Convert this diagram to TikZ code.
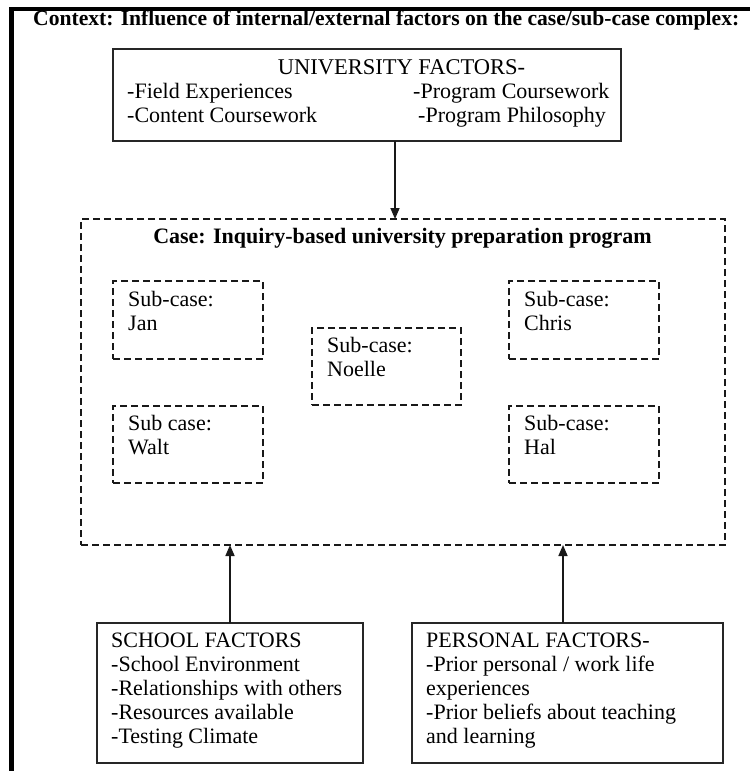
\documentclass[tikz,border=0pt]{standalone}
\usepackage{fontspec}
\setmainfont{Liberation Serif}
\usetikzlibrary{arrows.meta}
\newcommand{\mlines}[1]{\begin{tabular}[t]{@{}l@{}}#1\end{tabular}}
\begin{document}
\begin{tikzpicture}[x=1pt,y=-1pt,
  solidbox/.style={draw=black!85,line width=1.6pt,inner sep=0pt,outer sep=0pt,fill=none},
  dashbox/.style={draw=black!90,line width=1.3pt,dash pattern=on 7pt off 4pt,inner sep=0pt,outer sep=0pt},
  txt/.style={anchor=base west,inner sep=0pt,font=\fontsize{22}{24}\selectfont},
  arr/.style={draw=black!90,line width=1.6pt,-{Triangle[length=11pt,width=9pt]}}]
\useasboundingbox (0,0) rectangle (750,771);
% page border
\fill[black] (9,7) rectangle (750,11);
\fill[black] (9,7) rectangle (14,771);
% title
\node[anchor=base west,inner sep=0pt,font=\fontsize{21.6}{24}\selectfont\bfseries] (title) at (33,25) {Context: Influence of internal/external factors on the case/sub-case complex:};
% university box
\node[solidbox,minimum width=508pt,minimum height=92pt] (univ) at (367,95) {};
\node[anchor=base,inner sep=0pt,font=\fontsize{22.5}{24}\selectfont] (univt) at (401.5,74) {UNIVERSITY FACTORS-};
\node[txt] (u1) at (127,98) {-Field Experiences};
\node[txt] (u2) at (127,122) {-Content Coursework};
\node[txt] (u3) at (413,98) {-Program Coursework};
\node[txt] (u4) at (418,122) {-Program Philosophy};
% case box
\node[dashbox,minimum width=644pt,minimum height=326pt] (case) at (403,382) {};
\node[anchor=base,inner sep=0pt,font=\fontsize{22}{24}\selectfont\bfseries] (caset) at (402.5,243) {Case: Inquiry-based university preparation program};
% sub-cases
\node[dashbox,minimum width=150pt,minimum height=78pt] (jan) at (188,320) {};
\node[txt] (jant) at (128,306) {\mlines{Sub-case:\\Jan}};
\node[dashbox,minimum width=150pt,minimum height=77pt] (walt) at (188,444.5) {};
\node[txt] (waltt) at (128,430) {\mlines{Sub case:\\Walt}};
\node[dashbox,minimum width=149pt,minimum height=77pt] (noelle) at (386.5,366.5) {};
\node[txt] (noellet) at (327,352) {\mlines{Sub-case:\\Noelle}};
\node[dashbox,minimum width=150pt,minimum height=78pt] (chris) at (584,320) {};
\node[txt] (christ) at (524,306) {\mlines{Sub-case:\\Chris}};
\node[dashbox,minimum width=150pt,minimum height=77pt] (hal) at (584,444.5) {};
\node[txt] (halt) at (524,430) {\mlines{Sub-case:\\Hal}};
% bottom boxes
\node[solidbox,minimum width=266pt,minimum height=140pt] (school) at (230,693) {};
\node[txt] (schoolt) at (111,647) {\mlines{SCHOOL FACTORS\\-School Environment\\-Relationships with others\\-Resources available\\-Testing Climate}};
\node[solidbox,minimum width=311pt,minimum height=140pt] (personal) at (567.5,693) {};
\node[txt] (personalt) at (426,647) {\mlines{PERSONAL FACTORS-\\-Prior personal / work life\\experiences\\-Prior beliefs about teaching\\and learning}};
% arrows
\draw[arr] ([xshift=28pt]univ.south) -- ([xshift=28pt]univ.south |- case.north);
\draw[arr] (school.north) -- (school.north |- case.south);
\draw[arr] ([xshift=-4.5pt]personal.north) -- ([xshift=-4.5pt]personal.north |- case.south);
\end{tikzpicture}
\end{document}
